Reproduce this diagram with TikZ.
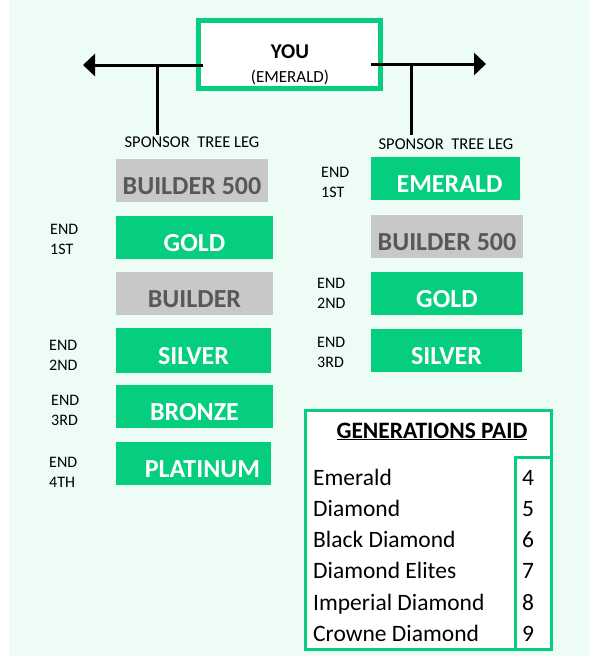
\documentclass[tikz,border=0pt]{standalone}
\usepackage{fontspec}
\setmainfont{Carlito}
\usetikzlibrary{arrows.meta}

\definecolor{brandgreen}{HTML}{05CE7E}
\definecolor{boxgrey}{HTML}{C8C8CA}
\definecolor{greytext}{HTML}{58585A}
\definecolor{mint}{HTML}{EEFCF6}

\tikzset{
    rankbox/.style={anchor=north west, minimum height=43pt, inner sep=0pt, outer sep=0pt,
        text height=27pt, text depth=0pt, font=\bfseries\fontsize{26}{26}\selectfont},
    greenbox/.style={rankbox, fill=brandgreen, text=white},
    greybox/.style={rankbox, fill=boxgrey, text=greytext},
    endlbl/.style={anchor=west, align=left, inner sep=0pt, font=\fontsize{16}{20}\selectfont},
    legtxt/.style={inner sep=0pt, font=\fontsize{16.5}{18}\selectfont},
    genrow/.style={anchor=base west, inner sep=0pt, font=\fontsize{23.5}{26}\selectfont},
    gennum/.style={anchor=base, inner sep=0pt, font=\fontsize{23.5}{26}\selectfont},
    branch/.style={line width=3pt}
}

\begin{document}
\begin{tikzpicture}[x=1pt,y=-1pt]
    \useasboundingbox (0,0) rectangle (590,656);
    \fill[mint] (9,0) rectangle (590,656);

    % top box
    \node[draw=brandgreen, line width=5pt, fill=white, anchor=north west, outer sep=0pt,
        minimum width=182pt, minimum height=68pt] (you) at (198.5,20.5) {};
    \node[font=\bfseries\fontsize{21}{24}\selectfont, inner sep=0pt] (youtxt) at (290,52) {YOU};
    \node[font=\fontsize{17}{20}\selectfont, inner sep=0pt] (youlvl) at (290,77) {(EMERALD)};

    % the two legs
    \coordinate (lstart) at (203,65);
    \coordinate (ltip) at (83,65);
    \coordinate (ljoin) at (157,65);
    \coordinate (lfoot) at (157,135);
    \coordinate (rstart) at (371,64);
    \coordinate (rtip) at (486,64);
    \coordinate (rjoin) at (411,64);
    \coordinate (rfoot) at (411,135);

    \draw[branch, -{Triangle[length=12pt,width=22pt]}] (lstart) -- (ltip);
    \draw[branch, -{Triangle[length=12pt,width=22pt]}] (rstart) -- (rtip);
    \draw[branch] (ljoin) -- (lfoot);
    \draw[branch] (rjoin) -- (rfoot);

    \node[legtxt] (lleg) at (192,142) {SPONSOR\ \ TREE LEG};
    \node[legtxt] (rleg) at (446,144) {SPONSOR\ \ TREE LEG};

    % left leg
    \node[greybox, minimum width=152pt] (lb500) at (116,159) {BUILDER 500};
    \node[greenbox, minimum width=157pt] (lgold) at (116,216) {GOLD};
    \node[greybox, minimum width=157pt] (lbuild) at (116,272) {BUILDER};
    \node[greenbox, minimum width=155pt, minimum height=45pt] (lsilver) at (116,328) {SILVER};
    \node[greenbox, minimum width=157pt] (lbronze) at (116,385) {BRONZE};
    \node[greenbox, minimum width=155pt] (lplat) at (116,442) {\hspace*{18pt}PLATINUM};

    \node[endlbl] (lend1) at (50,239) {END\\1ST};
    \node[endlbl] (lend2) at (49,355) {END\\2ND};
    \node[endlbl] (lend3) at (51,410) {END\\3RD};
    \node[endlbl] (lend4) at (49,472) {END\\4TH};

    % right leg
    \node[greenbox, minimum width=149pt] (remer) at (371,157) {\hspace*{8pt}EMERALD};
    \node[greybox, minimum width=152pt] (rb500) at (371,215) {BUILDER 500};
    \node[greenbox, minimum width=152pt] (rgold) at (371,272) {GOLD};
    \node[greenbox, minimum width=151pt] (rsilver) at (371,329) {SILVER};

    \node[endlbl] (rend1) at (321,182) {END\\1ST};
    \node[endlbl] (rend2) at (317,293) {END\\2ND};
    \node[endlbl] (rend3) at (317,352) {END\\3RD};

    % generations table
    \fill[white] (305.5,410.5) rectangle (551.5,649.5);
    \draw[brandgreen, line width=3pt] (305.5,410.5) rectangle (551.5,649.5);
    \draw[brandgreen, line width=3pt] (515.5,649.5) -- (515.5,457) -- (551.5,457);
    \node[font=\bfseries\fontsize{23.5}{26}\selectfont, anchor=base, inner sep=0pt] (gentitle)
        at (432,438) {\underline{GENERATIONS PAID}};

    \node[genrow] (g1) at (313,485) {Emerald};
    \node[genrow] (g2) at (313,516.3) {Diamond};
    \node[genrow] (g3) at (313,547.6) {Black Diamond};
    \node[genrow] (g4) at (313,578.9) {Diamond Elites};
    \node[genrow] (g5) at (313,610.2) {Imperial Diamond};
    \node[genrow] (g6) at (313,641.5) {Crowne Diamond};

    \node[gennum] (n1) at (528,485) {4};
    \node[gennum] (n2) at (528,516.3) {5};
    \node[gennum] (n3) at (528,547.6) {6};
    \node[gennum] (n4) at (528,578.9) {7};
    \node[gennum] (n5) at (528,610.2) {8};
    \node[gennum] (n6) at (528,641.5) {9};
\end{tikzpicture}
\end{document}
